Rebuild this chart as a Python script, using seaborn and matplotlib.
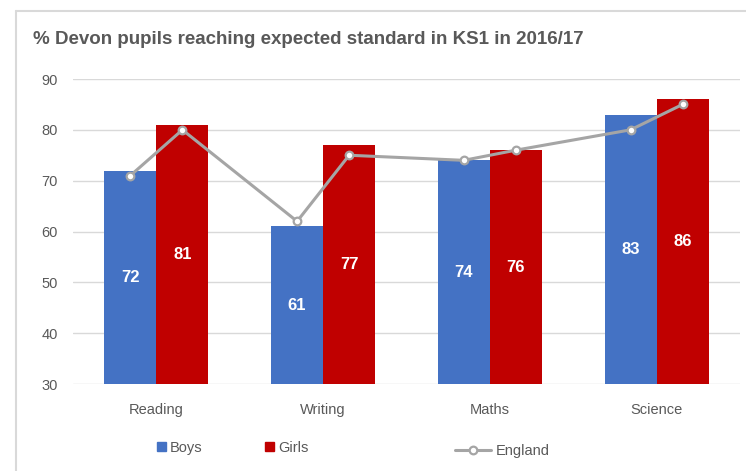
import matplotlib
matplotlib.use("Agg")
import matplotlib.pyplot as plt
from matplotlib.lines import Line2D
from matplotlib.patches import Patch
import seaborn as sns
import pandas as pd

# values
subjects = ["Reading", "Writing", "Maths", "Science"]
boys = [72, 61, 74, 83]
girls = [81, 77, 76, 86]
# England line: one point per bar (boys, girls, boys, girls ...)
england = [71, 80, 62, 75, 74, 76, 80, 85]

BLUE = "#4472C4"
RED = "#C00000"
GREY_LINE = "#A5A5A5"
TEXT = "#595959"
GRID = "#D9D9D9"

sns.set_style("white")
plt.rcParams["font.family"] = ["Liberation Sans", "DejaVu Sans"]

df = pd.DataFrame({
    "Subject": subjects * 2,
    "Gender": ["Boys"] * 4 + ["Girls"] * 4,
    "Value": boys + girls,
})

fig = plt.figure(figsize=(7.46, 4.71), dpi=100)
ax = fig.add_axes([73 / 746, 87 / 471, 667 / 746, 305 / 471])

sns.barplot(data=df, x="Subject", y="Value", hue="Gender", order=subjects,
            palette=[BLUE, RED], width=0.624, gap=0, legend=False,
            saturation=1, edgecolor="none", errorbar=None, ax=ax)

ax.set_ylim(30, 90)
ax.set_xlim(-0.5, 3.5)
ax.set_yticks(range(30, 91, 10))
ax.yaxis.grid(True, color=GRID, lw=1)
ax.set_axisbelow(True)
for s in ax.spines.values():
    s.set_visible(False)
ax.tick_params(axis="both", length=0, labelsize=10.5, colors=TEXT)
ax.tick_params(axis="y", pad=11)
ax.tick_params(axis="x", pad=14)
ax.set_xlabel("")
ax.set_ylabel("")

# labels centred in visible part of the bars
bars = sorted(ax.patches, key=lambda p: p.get_x())
for p in bars:
    h = p.get_height()
    ax.text(p.get_x() + p.get_width() / 2, (30 + h) / 2, f"{h:.0f}",
            ha="center", va="center", color="white", fontweight="bold",
            fontsize=12)

# England line passes through the centre of each bar
xs = [p.get_x() + p.get_width() / 2 for p in bars]
ax.plot(xs, england, color=GREY_LINE, lw=2.2, marker="o", ms=5.5,
        mfc="white", mec=GREY_LINE, mew=1.6, zorder=5)

fig.text(33 / 746, 1 - 40 / 471, "% Devon pupils reaching expected standard in KS1 in 2016/17",
         ha="left", va="center", fontsize=13.5, fontweight="bold", color=TEXT)

# legends (Excel spaces them unevenly)
bar_handles = [Patch(color=BLUE, label="Boys"), Patch(color=RED, label="Girls")]
fig.legend(handles=bar_handles, loc="center left",
           bbox_to_anchor=(157 / 746, 1 - 448 / 471), ncol=2, frameon=False,
           fontsize=10.5, handlelength=0.6, handleheight=0.6,
           handletextpad=0.3, columnspacing=4.3, borderpad=0,
           borderaxespad=0, labelcolor=TEXT)
line_handle = [Line2D([], [], color=GREY_LINE, lw=2.2, marker="o", ms=5.5,
                      mfc="white", mec=GREY_LINE, mew=1.6, label="England")]
fig.legend(handles=line_handle, loc="center left",
           bbox_to_anchor=(455 / 746, 1 - 451 / 471), frameon=False,
           fontsize=10.5, handlelength=2.5, handletextpad=0.3, borderpad=0,
           borderaxespad=0, labelcolor=TEXT)

# chart border (top and left edges visible in the screenshot)
fig.add_artist(Line2D([16 / 746, 1], [1 - 11 / 471, 1 - 11 / 471], color=GRID, lw=1.5))
fig.add_artist(Line2D([16 / 746, 16 / 746], [0, 1 - 11 / 471], color=GRID, lw=1.5))

fig.savefig("out.png", dpi=100)
